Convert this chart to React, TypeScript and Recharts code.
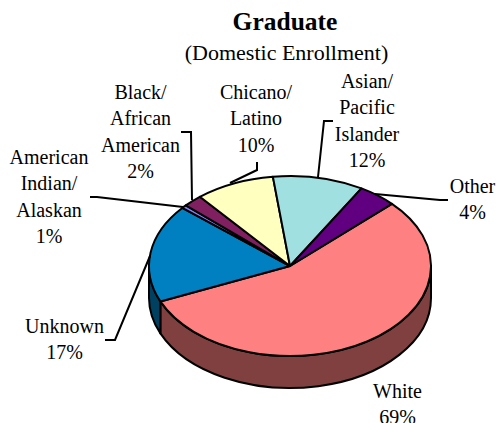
import React from 'react';
import { PieChart, Pie } from 'recharts';

// Slice order runs clockwise from the upper right edge of the White slice
const categories = [
  'White',
  'Unknown',
  'American Indian/ Alaskan',
  'Black/ African American',
  'Chicano/ Latino',
  'Asian/ Pacific Islander',
  'Other',
];
// Share of the drawn pie (the printed labels do not add up to 100)
const sliceShares = [55.7, 17.6, 0.6, 2.2, 9.1, 10.4, 4.4];
const printedPercents = ['69%', '17%', '1%', '2%', '10%', '12%', '4%'];
const topColors = ['#FF8080', '#0080C0', '#8080FF', '#802060', '#FFFFC0', '#A0E0E0', '#600080'];
const wallColors = ['#804040', '#004060', '#404080', '#401030', '#808060', '#507070', '#300040'];

const WIDTH = 496;
const HEIGHT = 423;
const CX = 290;
const CY = 266;
const RX = 141;
const RY = 90;
const DEPTH = 32;
const START = 43.7;
const FONT = '"Liberation Serif", "Times New Roman", serif';
const LABEL_SIZE = 20;
const LINE_GAP = 26.4;

// label centre, first baseline and leader line for each slice
const labelLayout = [
  { x: 397.5, y: 398, line: [] as number[][] },
  { x: 64.5, y: 333, line: [[105, 340], [115, 340], [150, 256]] },
  { x: 49, y: 164, line: [[90, 197], [97, 197], [183, 207]] },
  { x: 140.5, y: 99, line: [[181, 132], [191, 132], [192, 200]] },
  { x: 256, y: 99, line: [[257, 162], [257, 170], [230, 183]] },
  { x: 367, y: 88, line: [[333, 121], [324, 121], [318, 177]] },
  { x: 472.5, y: 193, line: [[448, 200], [440, 200], [375, 194]] },
];

const data = categories.map((name, i) => ({
  name,
  value: sliceShares[i],
  percent: printedPercents[i],
  fill: topColors[i],
  wall: wallColors[i],
}));

const pt = (cx: number, cy: number, r: number, deg: number) => {
  const a = (deg * Math.PI) / 180;
  return [cx + r * Math.cos(a), cy - r * (RY / RX) * Math.sin(a)];
};

// The pie is squashed into an ellipse and given a side wall to look 3D
const Slice3D = (props: any) => {
  const { cx, cy, outerRadius, startAngle, endAngle, fill, payload } = props;
  const ry = outerRadius * (RY / RX);
  const [x1, y1] = pt(cx, cy, outerRadius, startAngle);
  const [x2, y2] = pt(cx, cy, outerRadius, endAngle);
  const large = Math.abs(startAngle - endAngle) > 180 ? 1 : 0;
  const top = `M${cx},${cy} L${x1},${y1} A${outerRadius},${ry} 0 ${large} 1 ${x2},${y2} Z`;

  const wallFrom = Math.min(startAngle, 0);
  const wallTo = Math.max(endAngle, -180);
  let wall = null;
  if (wallFrom > wallTo) {
    const [wx1, wy1] = pt(cx, cy, outerRadius, wallFrom);
    const [wx2, wy2] = pt(cx, cy, outerRadius, wallTo);
    const d =
      `M${wx1},${wy1} A${outerRadius},${ry} 0 0 1 ${wx2},${wy2} L${wx2},${wy2 + DEPTH} ` +
      `A${outerRadius},${ry} 0 0 0 ${wx1},${wy1 + DEPTH} Z`;
    wall = <path d={d} fill={payload?.wall ?? props.wall} stroke="#000" strokeWidth={2} strokeLinejoin="round" />;
  }
  return (
    <g>
      {wall}
      <path d={top} fill={fill} stroke="#000" strokeWidth={2} strokeLinejoin="round" />
    </g>
  );
};

const renderLabel = (props: any) => {
  const { index, name, percent } = props;
  const entry = data[index];
  const layout = labelLayout[index];
  const lines = [...(entry?.name ?? name).split(' '), entry?.percent ?? percent];
  return (
    <g key={index}>
      {layout.line.length > 0 && (
        <polyline
          points={layout.line.map(p => p.join(',')).join(' ')}
          fill="none"
          stroke="#000"
          strokeWidth={2}
        />
      )}
      <text fontFamily={FONT} fontSize={LABEL_SIZE} fill="#000" textAnchor="middle">
        {lines.map((l: string, i: number) => (
          <tspan key={i} x={layout.x} y={layout.y + i * LINE_GAP}>{l}</tspan>
        ))}
      </text>
    </g>
  );
};

export default function App() {
  return (
    <div style={{ position: 'absolute', left: 0, top: 0, width: WIDTH, height: HEIGHT, background: '#fff' }}>
      <PieChart width={WIDTH} height={HEIGHT} margin={{ top: 0, right: 0, bottom: 0, left: 0 }}>
        <text x={285} y={30} textAnchor="middle" fontFamily={FONT} fontSize={25.5} fontWeight="bold" fill="#000">
          Graduate
        </text>
        <text x={286.5} y={60} textAnchor="middle" fontFamily={FONT} fontSize={22} fill="#000">
          (Domestic Enrollment)
        </text>
        <Pie
          data={data}
          dataKey="value"
          nameKey="name"
          cx={CX}
          cy={CY}
          innerRadius={0}
          outerRadius={RX}
          startAngle={START}
          endAngle={START - 360}
          stroke="#000"
          shape={Slice3D}
          label={renderLabel}
          labelLine={false}
          isAnimationActive={false}
        />
      </PieChart>
    </div>
  );
}
